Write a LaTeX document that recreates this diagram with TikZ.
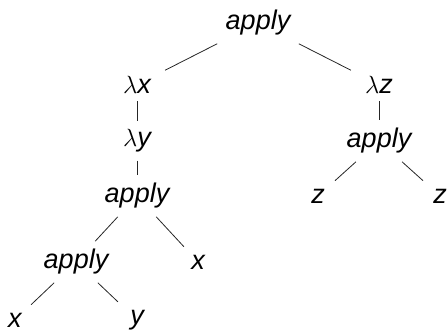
\documentclass[tikz,border=0pt]{standalone}
\usepackage{fontspec}
\setmainfont{Liberation Sans}
\usetikzlibrary{positioning}
\tikzset{
    term/.style={
        font=\fontsize{27}{32}\selectfont\itshape,
        inner xsep=14pt,
        inner ysep=8pt
    },
    branch/.style={line width=0.8pt, draw=black!85}
}
\newcommand{\lam}[1]{$\lambda$#1}

\begin{document}
\begin{tikzpicture}[on grid]
        \useasboundingbox (0,0) rectangle (447pt,333pt);
        \node[term] (top) at (258pt,310pt) {apply};
        \node[term, below left=61.5pt and 121pt of top] (lamx) {\lam{x}};
        \node[term, below right=61.5pt and 121pt of top] (lamz) {\lam{z}};
        \node[term, below=56.5pt of lamx] (lamy) {\lam{y}};
        \node[term, below=56.5pt of lamz] (appr) {apply};
        \node[term, below=55pt of lamy] (appm) {apply};
        \node[term, below left=55pt and 61pt of appr] (zl) {z};
        \node[term, below right=55pt and 61pt of appr] (zr) {z};
        \node[term, below left=66pt and 61pt of appm] (appl) {apply};
        \node[term, below right=66pt and 61pt of appm] (xm) {x};
        \node[term, below left=58pt and 61pt of appl] (xb) {x};
        \node[term, below right=58pt and 61pt of appl] (yb) {y};
        \draw[branch] (top) -- (lamx);
        \draw[branch] (top) -- (lamz);
        \draw[branch] (lamx) -- (lamy);
        \draw[branch] (lamy) -- (appm);
        \draw[branch] (lamz) -- (appr);
        \draw[branch] (appr) -- (zl);
        \draw[branch] (appr) -- (zr);
        \draw[branch] (appm) -- (appl);
        \draw[branch] (appm) -- (xm);
        \draw[branch] (appl) -- (xb);
        \draw[branch] (appl) -- (yb);
    \end{tikzpicture}
\end{document}
